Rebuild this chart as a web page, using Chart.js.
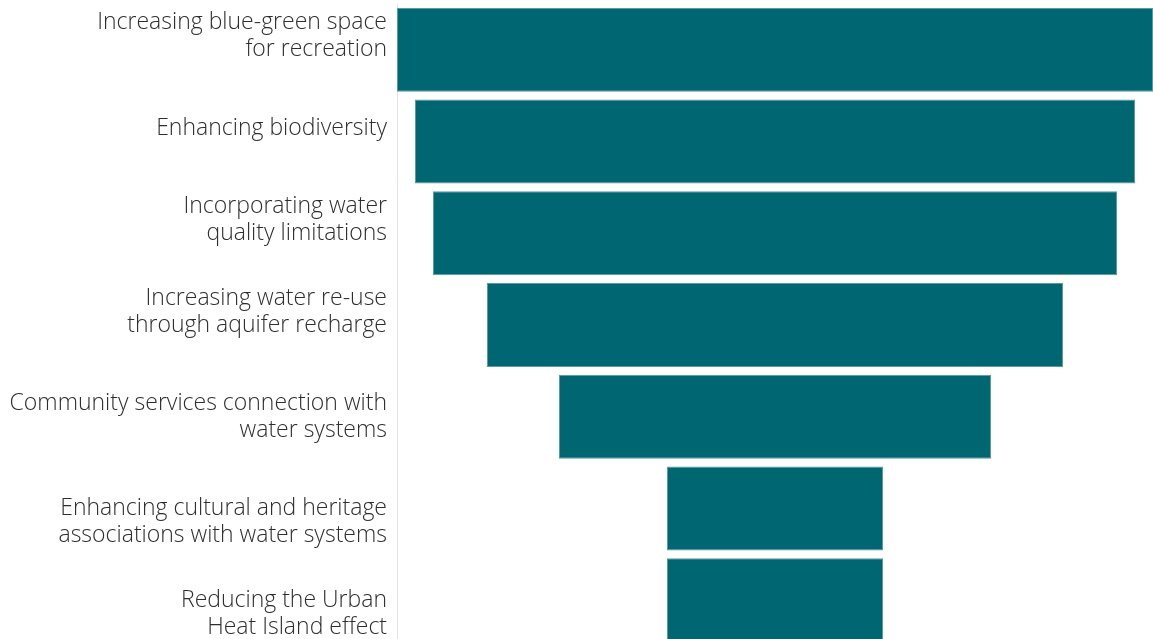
<!DOCTYPE html>
<html>
<head>
<meta charset="utf-8">
<script src="https://cdn.jsdelivr.net/npm/chart.js@4"></script>
<style>
  html, body { margin: 0; padding: 0; background: #fff; overflow: hidden; }
  #wrap { position: relative; width: 1153px; height: 646px; }
</style>
</head>
<body>
<div id="wrap"><canvas id="funnelChart"></canvas></div>
<script>
// Data (empty strings nudge a label up or down by half a line, as in the original)
const categories = [
    ['Increasing blue-green space', 'for recreation', ''],
    ['Enhancing biodiversity', ''],
    ['Incorporating water', 'quality limitations', ''],
    ['Increasing water re-use', 'through aquifer recharge', ''],
    ['Community services connection with', 'water systems'],
    ['', 'Enhancing cultural and heritage', 'associations with water systems'],
    ['', 'Reducing the Urban', 'Heat Island effect']
];
const counts = [21, 20, 19, 16, 12, 6, 6];

// funnel: each bar centred on zero
const maxCount = Math.max(...counts);
const floating = counts.map(v => [-v / 2, v / 2]);

const ctx = document.getElementById('funnelChart');
new Chart(ctx, {
    type: 'bar',
    data: {
        labels: categories,
        datasets: [{
            data: floating,
            backgroundColor: '#006671',
            borderColor: '#5a9aa1',
            borderWidth: 1,
            borderSkipped: false,
            barPercentage: 0.915,
            categoryPercentage: 1
        }]
    },
    options: {
        indexAxis: 'y',
        responsive: true,
        maintainAspectRatio: false,
        animation: false,
        layout: { padding: { top: 4, right: 0, bottom: 0, left: 0 } },
        plugins: {
            legend: { display: false },
            tooltip: { enabled: false }
        },
        scales: {
            x: {
                display: false,
                min: -maxCount / 2,
                max: maxCount / 2
            },
            y: {
                grid: { display: false, drawTicks: false },
                border: { display: true, color: '#e3e3e3', width: 1 },
                ticks: {
                    color: '#2e2e2e',
                    padding: 10,
                    font: { family: 'Open Sans', size: 23, weight: 300, lineHeight: 1.174 }
                },
                // multi-line labels would otherwise push the plot area in
                afterFit: function(scale) {
                    scale.paddingTop = 0;
                    scale.paddingBottom = 0;
                    scale.width = 397;
                }
            }
        }
    }
});
</script>
</body>
</html>
